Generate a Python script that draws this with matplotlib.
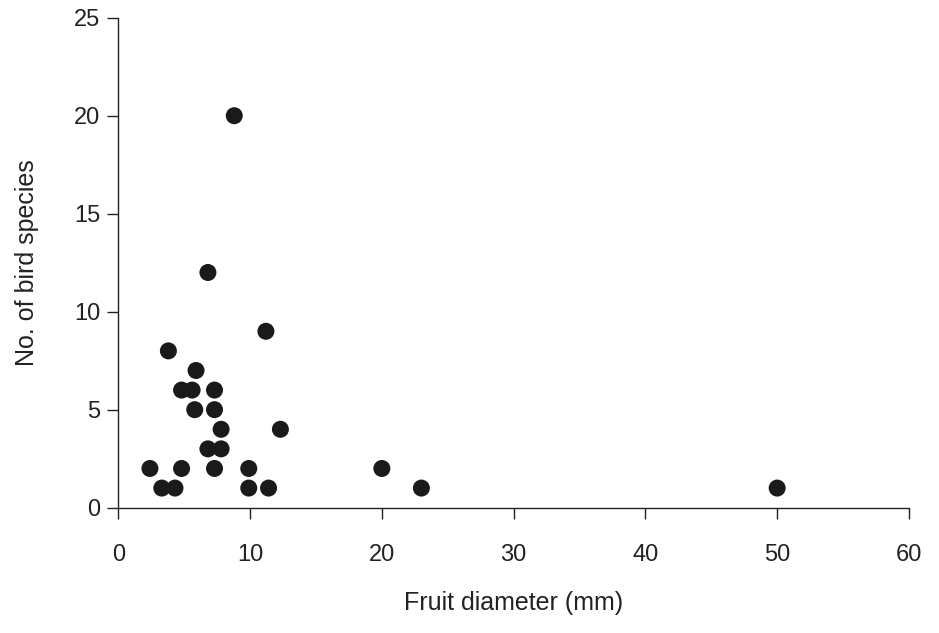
import matplotlib
matplotlib.use("Agg")
import matplotlib.pyplot as plt

# fruit diameter (mm) vs number of bird species feeding on it
fruit_diameter = [2.4, 3.3, 4.3, 3.8, 4.8, 5.6, 5.9, 5.8, 4.8, 6.8, 6.8,
                  7.3, 7.3, 7.3, 7.8, 7.8, 8.8, 9.9, 9.9, 11.2, 11.4, 12.3,
                  20.0, 23.0, 50.0]
bird_species = [2, 1, 1, 8, 6, 6, 7, 5, 2, 12, 3,
                6, 5, 2, 4, 3, 20, 2, 1, 9, 1, 4,
                2, 1, 1]

plt.rcParams['font.family'] = ['Liberation Sans', 'DejaVu Sans']

fig = plt.figure(figsize=(9.39, 6.33), dpi=100)
ax = fig.add_axes([0.126, 0.198, 0.842, 0.774])

ax.scatter(fruit_diameter, bird_species, s=150, color="#1a1a1a",
           edgecolors="none", zorder=3, clip_on=False)

ax.set_xlim(0, 60)
ax.set_ylim(0, 25)
ax.set_xticks(range(0, 61, 10))
ax.set_yticks(range(0, 26, 5))

for side in ["top", "right"]:
    ax.spines[side].set_visible(False)
for side in ["left", "bottom"]:
    ax.spines[side].set_linewidth(1.0)
    ax.spines[side].set_color("#222222")

ax.tick_params(axis="x", direction="out", length=8, width=1, pad=18,
               labelsize=17, colors="#222222")
ax.tick_params(axis="y", direction="out", length=8, width=1, pad=5,
               labelsize=17, colors="#222222")

ax.set_xlabel("Fruit diameter (mm)", fontsize=18, labelpad=18, color="#222222")
ax.set_ylabel("No. of bird species", fontsize=18, labelpad=25, color="#222222")

fig.savefig("out.png", dpi=100, facecolor="white")
